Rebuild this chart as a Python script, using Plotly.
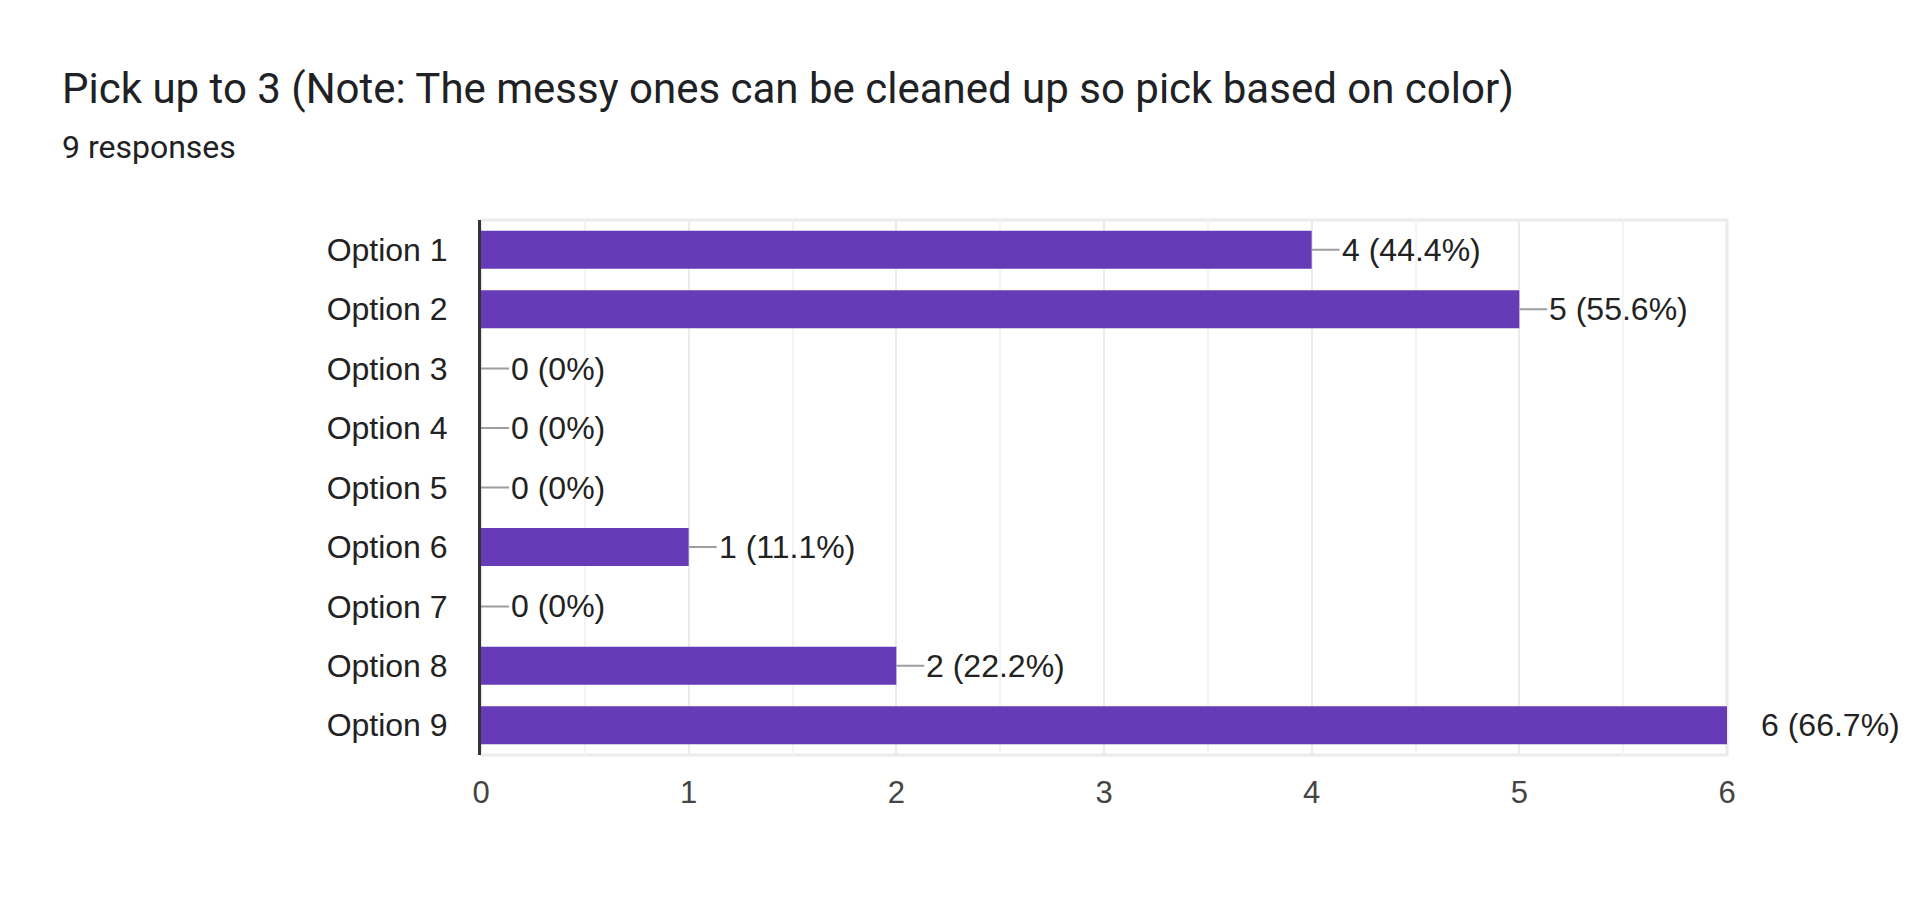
import plotly.graph_objects as go

# survey answers (Google Forms summary chart)
title = 'Pick up to 3 (Note: The messy ones can be cleaned up so pick based on color)'
responses = 9
options = ['Option 1', 'Option 2', 'Option 3', 'Option 4', 'Option 5',
           'Option 6', 'Option 7', 'Option 8', 'Option 9']
counts = [4, 5, 0, 0, 0, 1, 0, 2, 6]
x_ticks = [0, 1, 2, 3, 4, 5, 6]

purple = '#673ab7'
label_font = 'Arial, "Liberation Sans", sans-serif'


def pct_label(n, total):
    p = round(100 * n / total, 1)
    p = int(p) if p == int(p) else p
    return f'{n} ({p}%)'


fig = go.Figure()
fig.add_trace(go.Bar(
    x=counts, y=options, orientation='h',
    marker_color=purple, marker_line_width=0,
    hoverinfo='skip',
))

x_max = max(x_ticks)
for opt, n in zip(options, counts):
    at_edge = n >= x_max
    fig.add_annotation(
        x=n, y=opt, text=pct_label(n, responses),
        showarrow=True, arrowhead=0, arrowwidth=2,
        arrowcolor='rgba(0,0,0,0)' if at_edge else '#9e9e9e',
        ax=32 if at_edge else 28, ay=0, xanchor='left',
        font=dict(family=label_font, size=32, color='#222222'),
    )

# title and subtitle, top-left of the card
fig.add_annotation(
    text=title, xref='paper', yref='paper', x=-0.3375, y=1.245,
    xanchor='left', yanchor='middle', showarrow=False,
    font=dict(family='Roboto, sans-serif', size=42, color='#202124'),
)
fig.add_annotation(
    text=f'{responses} responses', xref='paper', yref='paper', x=-0.3375, y=1.136,
    xanchor='left', yanchor='middle', showarrow=False,
    font=dict(family='Roboto, sans-serif', size=32, color='#202124'),
)

# light frame around the plotting area
fig.add_shape(type='rect', xref='paper', yref='paper', x0=0, y0=0, x1=1, y1=1,
              line=dict(color='#ebebeb', width=3), layer='below')

# page body keeps an 8px margin, so the figure is a bit smaller than the window
fig.update_layout(
    width=1904, height=897,
    margin=dict(l=473, r=185, t=212, b=150),
    paper_bgcolor='white', plot_bgcolor='white',
    bargap=0.36, showlegend=False,
    xaxis=dict(
        range=[0, x_max], tickvals=x_ticks, showgrid=True,
        gridcolor='#ebebeb', gridwidth=2, zeroline=False, showline=False,
        minor=dict(dtick=0.5, showgrid=True, gridcolor='#f4f4f4', gridwidth=2),
        tickfont=dict(family=label_font, size=31, color='#444444'),
        ticklabelstandoff=16, fixedrange=True,
    ),
    yaxis=dict(
        autorange='reversed', showgrid=False, zeroline=False,
        showline=True, linecolor='#333333', linewidth=3,
        tickfont=dict(family=label_font, size=32, color='#222222'),
        ticklabelstandoff=24, fixedrange=True,
    ),
)

fig.write_html('out.html')
